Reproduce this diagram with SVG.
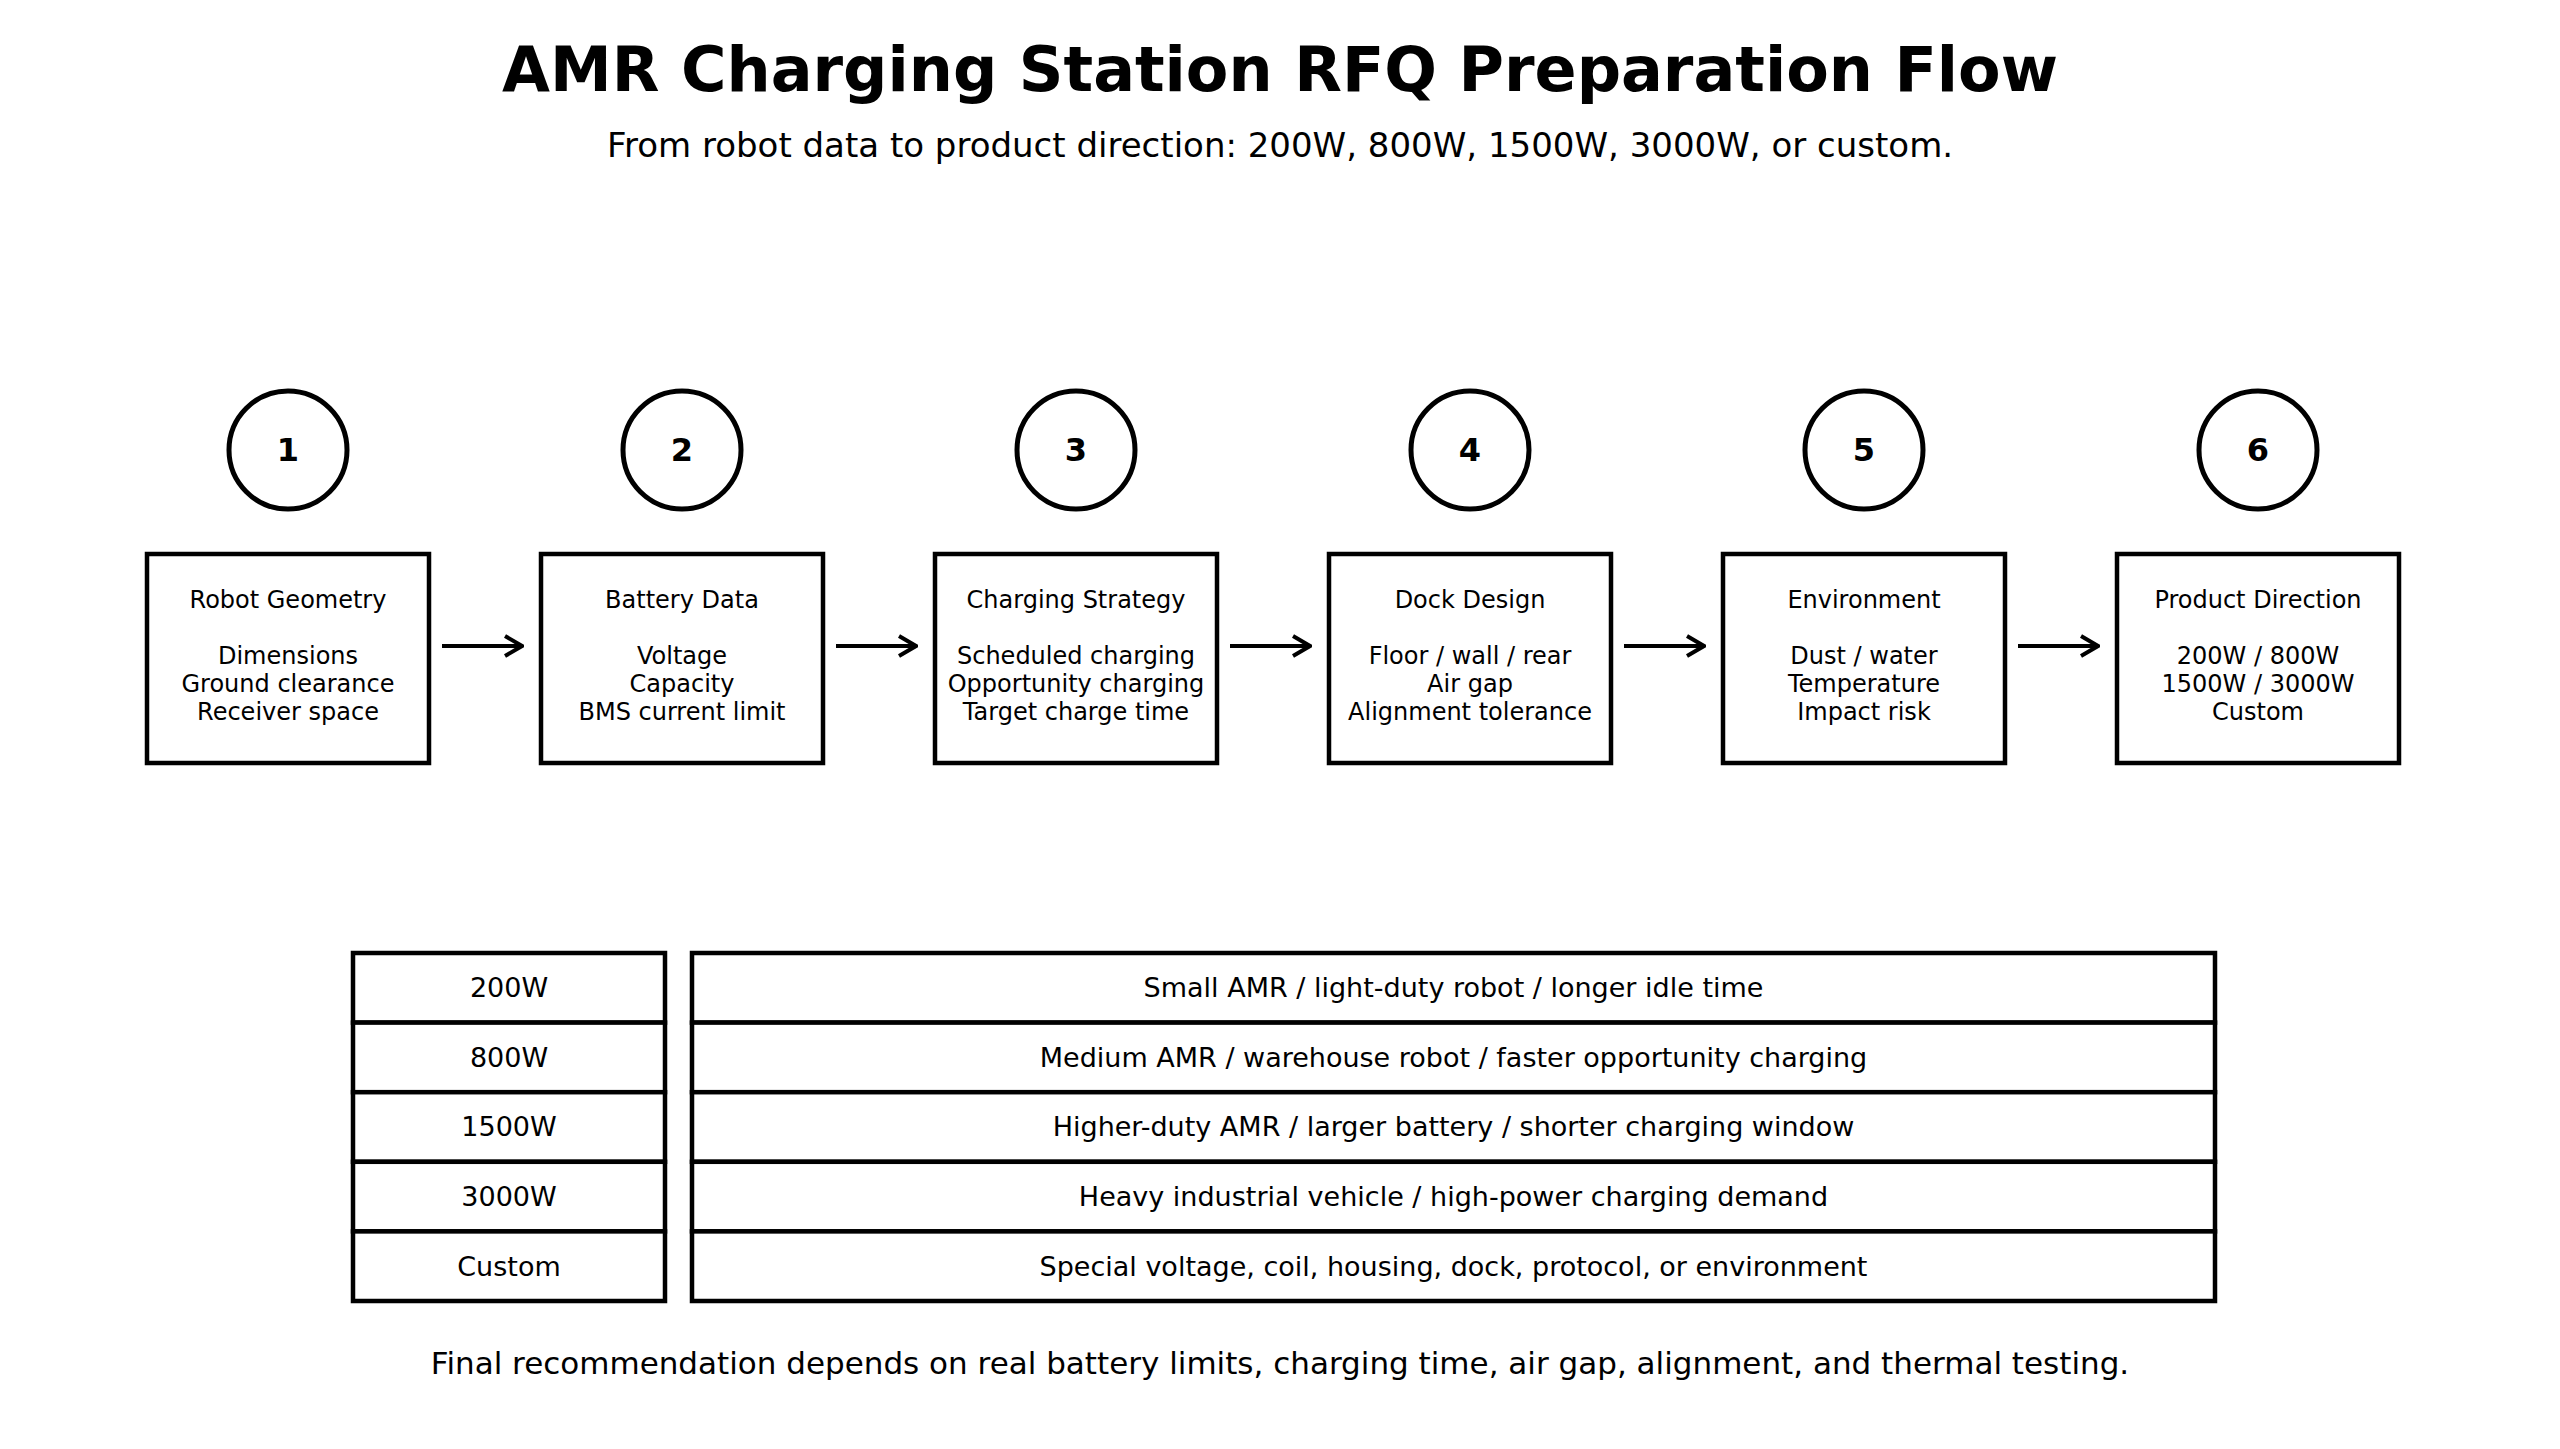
<svg xmlns="http://www.w3.org/2000/svg" width="2560" height="1449" viewBox="0 0 2560 1449">
<style>
text{font-family:"DejaVu Sans","Liberation Sans",sans-serif;fill:#000;text-anchor:middle}
.title{font-size:62px;font-weight:bold}
.sub{font-size:34px}
.num{font-size:32px;font-weight:bold}
.box{font-size:24px}
.cell{font-size:27px}
.foot{font-size:31px}
.shape{fill:#fff;stroke:#000;stroke-width:4.5}
.circ{fill:#fff;stroke:#000;stroke-width:5}
.conn{fill:none;stroke:#000;stroke-width:4}
</style>
<defs>
<marker id="arr" viewBox="0 0 20 24" refX="18" refY="12" markerWidth="20" markerHeight="24" markerUnits="userSpaceOnUse" orient="auto">
<path d="M1,2 L18,12 L1,22" fill="none" stroke="#000" stroke-width="4"/>
</marker>
</defs>
<rect width="2560" height="1449" fill="#fff"/>
<text class="title" x="1280" y="91">AMR Charging Station RFQ Preparation Flow</text>
<text class="sub" x="1280" y="157">From robot data to product direction: 200W, 800W, 1500W, 3000W, or custom.</text>

<g id="step1">
<circle class="circ" cx="288" cy="450" r="59"/>
<text class="num" x="288" y="461">1</text>
<rect class="shape" x="147" y="554" width="282" height="209"/>
<text class="box" x="288" y="608">Robot Geometry</text>
<text class="box" x="288" y="664">Dimensions</text>
<text class="box" x="288" y="692">Ground clearance</text>
<text class="box" x="288" y="720">Receiver space</text>
</g>
<g id="step2">
<circle class="circ" cx="682" cy="450" r="59"/>
<text class="num" x="682" y="461">2</text>
<rect class="shape" x="541" y="554" width="282" height="209"/>
<text class="box" x="682" y="608">Battery Data</text>
<text class="box" x="682" y="664">Voltage</text>
<text class="box" x="682" y="692">Capacity</text>
<text class="box" x="682" y="720">BMS current limit</text>
</g>
<g id="step3">
<circle class="circ" cx="1076" cy="450" r="59"/>
<text class="num" x="1076" y="461">3</text>
<rect class="shape" x="935" y="554" width="282" height="209"/>
<text class="box" x="1076" y="608">Charging Strategy</text>
<text class="box" x="1076" y="664">Scheduled charging</text>
<text class="box" x="1076" y="692">Opportunity charging</text>
<text class="box" x="1076" y="720">Target charge time</text>
</g>
<g id="step4">
<circle class="circ" cx="1470" cy="450" r="59"/>
<text class="num" x="1470" y="461">4</text>
<rect class="shape" x="1329" y="554" width="282" height="209"/>
<text class="box" x="1470" y="608">Dock Design</text>
<text class="box" x="1470" y="664">Floor / wall / rear</text>
<text class="box" x="1470" y="692">Air gap</text>
<text class="box" x="1470" y="720">Alignment tolerance</text>
</g>
<g id="step5">
<circle class="circ" cx="1864" cy="450" r="59"/>
<text class="num" x="1864" y="461">5</text>
<rect class="shape" x="1723" y="554" width="282" height="209"/>
<text class="box" x="1864" y="608">Environment</text>
<text class="box" x="1864" y="664">Dust / water</text>
<text class="box" x="1864" y="692">Temperature</text>
<text class="box" x="1864" y="720">Impact risk</text>
</g>
<g id="step6">
<circle class="circ" cx="2258" cy="450" r="59"/>
<text class="num" x="2258" y="461">6</text>
<rect class="shape" x="2117" y="554" width="282" height="209"/>
<text class="box" x="2258" y="608">Product Direction</text>
<text class="box" x="2258" y="664">200W / 800W</text>
<text class="box" x="2258" y="692">1500W / 3000W</text>
<text class="box" x="2258" y="720">Custom</text>
</g>

<g id="connectors">
<line class="conn" x1="442" y1="646" x2="522" y2="646" marker-end="url(#arr)"/>
<line class="conn" x1="836" y1="646" x2="916" y2="646" marker-end="url(#arr)"/>
<line class="conn" x1="1230" y1="646" x2="1310" y2="646" marker-end="url(#arr)"/>
<line class="conn" x1="1624" y1="646" x2="1704" y2="646" marker-end="url(#arr)"/>
<line class="conn" x1="2018" y1="646" x2="2098" y2="646" marker-end="url(#arr)"/>
</g>

<g id="table">
<g id="row-200W">
<rect class="shape" x="353" y="953" width="312" height="69.6"/>
<rect class="shape" x="692" y="953" width="1523" height="69.6"/>
<text class="cell" x="509" y="997">200W</text>
<text class="cell" x="1453.5" y="997">Small AMR / light-duty robot / longer idle time</text>
</g>
<g id="row-800W">
<rect class="shape" x="353" y="1022.6" width="312" height="69.6"/>
<rect class="shape" x="692" y="1022.6" width="1523" height="69.6"/>
<text class="cell" x="509" y="1067">800W</text>
<text class="cell" x="1453.5" y="1067">Medium AMR / warehouse robot / faster opportunity charging</text>
</g>
<g id="row-1500W">
<rect class="shape" x="353" y="1092.2" width="312" height="69.6"/>
<rect class="shape" x="692" y="1092.2" width="1523" height="69.6"/>
<text class="cell" x="509" y="1136">1500W</text>
<text class="cell" x="1453.5" y="1136">Higher-duty AMR / larger battery / shorter charging window</text>
</g>
<g id="row-3000W">
<rect class="shape" x="353" y="1161.8" width="312" height="69.6"/>
<rect class="shape" x="692" y="1161.8" width="1523" height="69.6"/>
<text class="cell" x="509" y="1206">3000W</text>
<text class="cell" x="1453.5" y="1206">Heavy industrial vehicle / high-power charging demand</text>
</g>
<g id="row-custom">
<rect class="shape" x="353" y="1231.4" width="312" height="69.6"/>
<rect class="shape" x="692" y="1231.4" width="1523" height="69.6"/>
<text class="cell" x="509" y="1276">Custom</text>
<text class="cell" x="1453.5" y="1276">Special voltage, coil, housing, dock, protocol, or environment</text>
</g>
</g>

<text class="foot" x="1280" y="1374">Final recommendation depends on real battery limits, charging time, air gap, alignment, and thermal testing.</text>
</svg>
